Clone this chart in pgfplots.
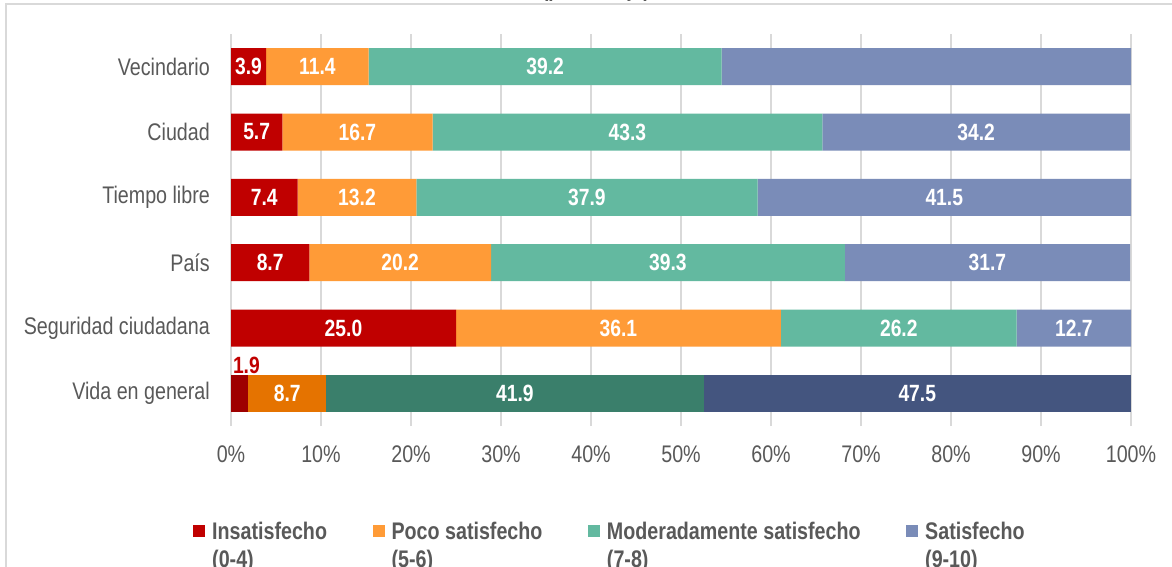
\documentclass[border=0pt]{standalone}
\usepackage{fontspec}
\setmainfont{Liberation Sans}[FakeStretch=0.82]
\usepackage{pgfplots}
\usepackage{pgfplotstable}
\pgfplotsset{compat=1.18}
\definecolor{cred}{HTML}{C00000}
\definecolor{corange}{HTML}{FF9B37}
\definecolor{cteal}{HTML}{63B9A0}
\definecolor{cblue}{HTML}{7A8CB8}
\definecolor{dred}{HTML}{9E0000}
\definecolor{dorange}{HTML}{E57300}
\definecolor{dteal}{HTML}{3A7F6B}
\definecolor{dblue}{HTML}{44557F}
\definecolor{gridgray}{HTML}{D9D9D9}
\definecolor{labgray}{HTML}{595959}
\pgfplotstableread{
y a b c d
5 3.9 11.4 39.2 45.6
4 5.7 16.7 43.3 34.2
3 7.4 13.2 37.9 41.5
2 8.7 20.2 39.3 31.7
1 25.0 36.1 26.2 12.7
}\maindata
\pgfplotstableread{
y a b c d
0 1.9 8.7 41.9 47.5
}\vidadata
\newcommand{\barfont}{\fontsize{23.5}{28}\selectfont\bfseries}
\begin{document}
\begin{tikzpicture}
\useasboundingbox (0,0) rectangle (1172pt,-567pt);
\clip (0,0) rectangle (1172pt,-567pt);
\fill[white] (0,0) rectangle (1172pt,-567pt);
\draw[gridgray, line width=2pt] (6pt,-4pt) rectangle (1200pt,-620pt);
\node[font=\fontsize{23}{28}\selectfont\bfseries, text=black!85, anchor=base] at (596pt,3pt) {(porcentaje)};
\pgfplotsset{
  mybars/.style={
    scale only axis, width=900pt, height=392pt,
    at={(231pt,-426pt)}, anchor=south west,
    xmin=0, xmax=100, ymin=-0.5, ymax=5.5,
    xbar stacked, bar width=37pt,
    nodes near coords, point meta=explicit symbolic,
    every node near coord/.append style={anchor=center, inner sep=0pt, font=\barfont, text=white},
  },
}
\begin{axis}[mybars,
  xtick={0,10,...,100},
  xticklabels={0\%,10\%,20\%,30\%,40\%,50\%,60\%,70\%,80\%,90\%,100\%},
  ytick={0,1,2,3,4,5},
  yticklabels={Vida en general,Seguridad ciudadana,País,Tiempo libre,Ciudad,Vecindario},
  axis line style={draw=none}, major tick length=0pt,
  xmajorgrids, major grid style={draw=gridgray, line width=1.5pt},
  tick label style={font=\fontsize{24}{28.8}\selectfont, text=labgray, inner sep=0pt},
  xticklabel style={anchor=north, yshift=-20pt},
  yticklabel style={anchor=east, xshift=-21pt},
  legend cell align=left,
  legend columns=4,
  legend style={at={(-0.0422,-0.2408)}, anchor=north west, draw=none, fill=none,
    inner xsep=0pt, inner ysep=0pt,
    font=\fontsize{24}{27.5}\selectfont\bfseries, text=labgray,
    nodes={inner sep=0pt},
    cells={anchor=base west},
    /tikz/every odd column/.append style={column sep=7pt},
    /tikz/every even column/.append style={column sep=45.5pt}},
  legend image code/.code={\fill[#1] (0pt,2.5pt) rectangle (12pt,14.5pt);},
]
\addplot[fill=cred, draw=none] table[x=a, y=y, meta=a] {\maindata};
\addlegendentry{\begin{tabular}[t]{@{}l@{}}Insatisfecho\\(0-4)\end{tabular}}
\addplot[fill=corange, draw=none] table[x=b, y=y, meta=b] {\maindata};
\addlegendentry{\begin{tabular}[t]{@{}l@{}}Poco satisfecho\\(5-6)\end{tabular}}
\addplot[fill=cteal, draw=none] table[x=c, y=y, meta=c] {\maindata};
\addlegendentry{\begin{tabular}[t]{@{}l@{}}Moderadamente satisfecho\\(7-8)\end{tabular}}
\addplot[fill=cblue, draw=none] table[x=d, y=y, meta=d] {\maindata};
\addlegendentry{\begin{tabular}[t]{@{}l@{}}Satisfecho\\(9-10)\end{tabular}}
\end{axis}
\begin{axis}[mybars, hide axis]
\addplot[fill=dred, draw=none,
  every node near coord/.append style={text=cred, xshift=6.85pt, yshift=27.8pt}] table[x=a, y=y, meta=a] {\vidadata};
\addplot[fill=dorange, draw=none] table[x=b, y=y, meta=b] {\vidadata};
\addplot[fill=dteal, draw=none] table[x=c, y=y, meta=c] {\vidadata};
\addplot[fill=dblue, draw=none] table[x=d, y=y, meta=d] {\vidadata};
\end{axis}
\end{tikzpicture}
\end{document}
